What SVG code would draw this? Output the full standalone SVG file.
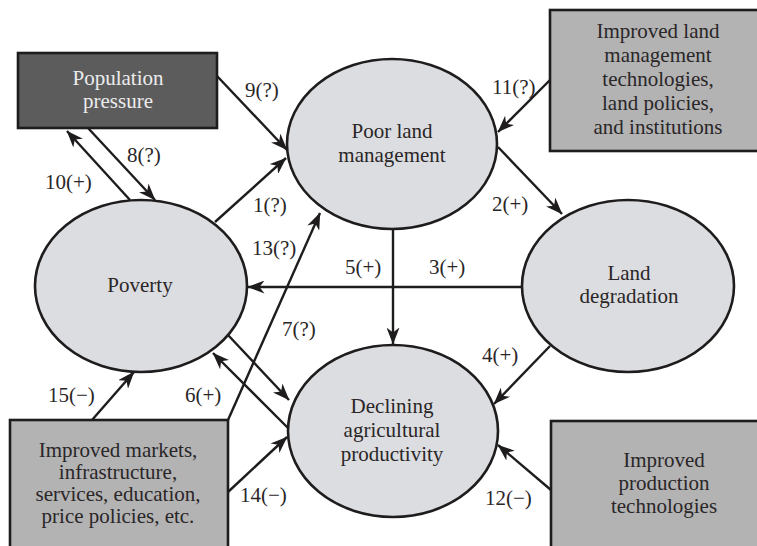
<svg xmlns="http://www.w3.org/2000/svg" width="757" height="546" viewBox="0 0 757 546">
<defs>
<marker id="ah" markerUnits="userSpaceOnUse" markerWidth="17" markerHeight="13" viewBox="0 0 17 13" refX="16.5" refY="6.5" orient="auto">
<path d="M0,0 L17,6.5 L0,13 L5,6.5 z" fill="#1f1c1d"/>
</marker>
</defs>
<style>
text{font-family:'Liberation Serif',Tinos,'Times New Roman',Times,'Noto Serif','DejaVu Serif',FreeSerif,serif;font-size:21px;fill:#2a2627}
.t{text-anchor:middle}
.el{fill:#dcdde0;stroke:#1f1c1d;stroke-width:2.6}
.bx{fill:#b3b3b4;stroke:#1f1c1d;stroke-width:2.6}
.dk{fill:#5c5c5d;stroke:#1f1c1d;stroke-width:2.6}
.c{stroke:#1f1c1d;stroke-width:2.4;fill:none;marker-end:url(#ah)}
</style>
<rect width="757" height="546" fill="#ffffff"/>
<g id="connectors">
<line class="c" x1="217" y1="76" x2="287" y2="150"/>
<line class="c" x1="88" y1="128" x2="155" y2="200"/>
<line class="c" x1="130" y1="200" x2="67" y2="131"/>
<line class="c" x1="215" y1="222" x2="286" y2="158"/>
<line class="c" x1="550" y1="80" x2="498" y2="132"/>
<line class="c" x1="498" y1="147" x2="562" y2="214"/>
<line class="c" x1="523" y1="287" x2="248" y2="287"/>
<line class="c" x1="393" y1="229" x2="393" y2="344"/>
<line class="c" x1="550" y1="346" x2="494" y2="404"/>
<line class="c" x1="551" y1="490" x2="498" y2="445"/>
<line class="c" x1="228" y1="335" x2="289" y2="400"/>
<line class="c" x1="288" y1="428" x2="213" y2="353"/>
<line class="c" x1="228" y1="420" x2="320" y2="213"/>
<line class="c" x1="92" y1="420" x2="134" y2="372"/>
<line class="c" x1="228" y1="492" x2="287" y2="437"/>
</g>
<g id="labels">
<text x="245" y="97">9(?)</text>
<text x="127" y="162">8(?)</text>
<text x="45" y="189">10(+)</text>
<text x="253" y="212">1(?)</text>
<text x="492" y="94">11(?)</text>
<text x="492" y="211">2(+)</text>
<text x="252" y="255">13(?)</text>
<text x="345" y="274">5(+)</text>
<text x="429" y="274">3(+)</text>
<text x="282" y="336">7(?)</text>
<text x="482" y="362">4(+)</text>
<text x="185" y="402">6(+)</text>
<text x="48" y="402">15(−)</text>
<text x="240" y="502">14(−)</text>
<text x="485" y="505">12(−)</text>
</g>
<g id="population-pressure">
<rect class="dk" x="18" y="53" width="199" height="75"/>
<text class="t" x="118" y="85" style="fill:#ececec">Population</text>
<text class="t" x="118" y="108" style="fill:#ececec">pressure</text>
</g>
<g id="improved-land-management">
<rect class="bx" x="550" y="10" width="216" height="141"/>
<text class="t" x="658" y="38">Improved land</text>
<text class="t" x="658" y="62">management</text>
<text class="t" x="658" y="86">technologies,</text>
<text class="t" x="658" y="110">land policies,</text>
<text class="t" x="658" y="134">and institutions</text>
</g>
<g id="improved-markets">
<rect class="bx" x="10" y="420" width="218" height="140"/>
<text class="t" x="118" y="457">Improved markets,</text>
<text class="t" x="118" y="479">infrastructure,</text>
<text class="t" x="118" y="501">services, education,</text>
<text class="t" x="118" y="523">price policies, etc.</text>
</g>
<g id="improved-production">
<rect class="bx" x="551" y="421" width="226" height="140"/>
<text class="t" x="664" y="467">Improved</text>
<text class="t" x="664" y="490">production</text>
<text class="t" x="664" y="513">technologies</text>
</g>
<g id="poor-land-management">
<ellipse class="el" cx="392" cy="144" rx="105" ry="85"/>
<text class="t" x="392" y="138">Poor land</text>
<text class="t" x="392" y="162">management</text>
</g>
<g id="poverty">
<ellipse class="el" cx="141" cy="286" rx="106" ry="86"/>
<text class="t" x="140" y="292">Poverty</text>
</g>
<g id="land-degradation">
<ellipse class="el" cx="628" cy="286" rx="106" ry="86"/>
<text class="t" x="629" y="280">Land</text>
<text class="t" x="629" y="303">degradation</text>
</g>
<g id="declining-productivity">
<ellipse class="el" cx="393" cy="431" rx="105" ry="86"/>
<text class="t" x="392" y="413">Declining</text>
<text class="t" x="392" y="437">agricultural</text>
<text class="t" x="392" y="461">productivity</text>
</g>
</svg>
